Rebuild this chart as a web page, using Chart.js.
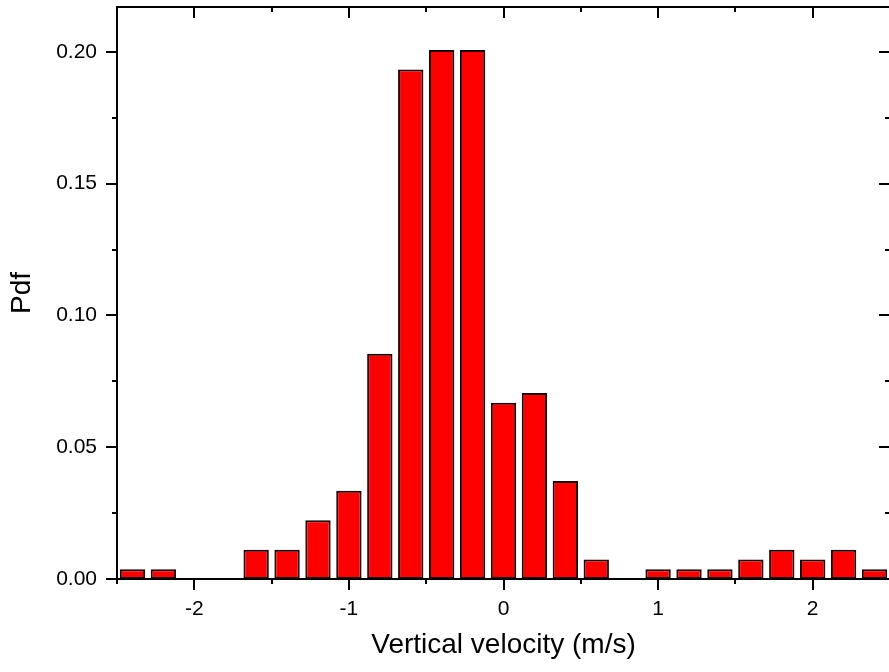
<!DOCTYPE html>
<html>
<head>
<meta charset="utf-8">
<title>Vertical velocity pdf</title>
<script src="https://cdn.jsdelivr.net/npm/chart.js@4.4.1/dist/chart.umd.min.js"></script>
<style>
  html, body { margin: 0; padding: 0; background: #fff; overflow: hidden; }
  #wrap { width: 893px; height: 672px; }
</style>
</head>
<body>
<div id="wrap"><canvas id="pdfChart" width="893" height="672"></canvas></div>
<script>
// Histogram data: bin centres (m/s) and pdf per bin
const binCentres = [-2.4, -2.2, -2.0, -1.8, -1.6, -1.4, -1.2, -1.0, -0.8, -0.6, -0.4, -0.2,
                    0.0, 0.2, 0.4, 0.6, 0.8, 1.0, 1.2, 1.4, 1.6, 1.8, 2.0, 2.2, 2.4];
const pdfValues = [0.0037, 0.0037, 0, 0, 0.0111, 0.0111, 0.0223, 0.0335, 0.0855, 0.1933, 0.2007, 0.2007,
                   0.0669, 0.0706, 0.0372, 0.0074, 0, 0.0037, 0.0037, 0.0037, 0.0074, 0.0111, 0.0074, 0.0111, 0.0037];

// Axis ticks and ranges
const xTickValues = [-2, -1, 0, 1, 2];
const yTickValues = [0, 0.05, 0.10, 0.15, 0.20];
const xRange = [-2.5, 2.5];
const yRange = [0, 0.217];

Chart.defaults.font.family = "'Liberation Sans', Arial, sans-serif";
Chart.defaults.color = '#000';

// midpoints between major ticks (plus one on each end) for the minor ticks
function minorTicks(major, lo, hi) {
    const step = major[1] - major[0];
    const out = [];
    for (let i = -1; i < major.length; i++) {
        const v = major[0] + (i + 0.5) * step;
        if (v >= lo - 1e-9 && v <= hi + 1e-9) out.push(v);
    }
    return out;
}

// Frame box plus Origin-style ticks: outward on bottom/left, inward on top/right
const frameTicks = {
    id: 'frameTicks',
    afterDraw(chart) {
        const {ctx, chartArea: a, scales: {x, y}} = chart;
        const xMinor = minorTicks(xTickValues, xRange[0], xRange[1]);
        const yMinor = minorTicks(yTickValues, yRange[0], yRange[1]);
        ctx.save();
        ctx.strokeStyle = '#000';
        ctx.lineWidth = 2;
        ctx.strokeRect(a.left, a.top, a.right - a.left, a.bottom - a.top);
        ctx.beginPath();
        const xt = (v, len) => {
            const px = Math.round(x.getPixelForValue(v));
            ctx.moveTo(px, a.bottom); ctx.lineTo(px, a.bottom + len);
            ctx.moveTo(px, a.top); ctx.lineTo(px, a.top + len);
        };
        const yt = (v, len) => {
            const py = Math.round(y.getPixelForValue(v));
            ctx.moveTo(a.left, py); ctx.lineTo(a.left - len, py);
            ctx.moveTo(a.right, py); ctx.lineTo(a.right - len, py);
        };
        xTickValues.forEach(v => xt(v, 11));
        xMinor.forEach(v => xt(v, 5));
        yTickValues.forEach(v => yt(v, 11));
        yMinor.forEach(v => yt(v, 5));
        ctx.stroke();
        ctx.restore();
    }
};

const pdfConfig = {
    type: 'bar',
    data: {
        datasets: [{
            label: 'Pdf',
            data: binCentres.map((c, i) => ({x: c, y: pdfValues[i]})),
            backgroundColor: '#ff0000',
            borderColor: '#1a0000',
            borderWidth: 2,
            borderSkipped: false,
            categoryPercentage: 1,
            barPercentage: 0.82
        }]
    },
    options: {
        responsive: false,
        animation: false,
        layout: { padding: { top: 7, right: 3, left: 0, bottom: 0 } },
        plugins: {
            legend: { display: false },
            tooltip: { enabled: false }
        },
        scales: {
            x: {
                type: 'linear',
                min: xRange[0],
                max: xRange[1],
                offset: false,
                grid: { display: false, drawTicks: false },
                border: { display: false },
                afterBuildTicks: s => { s.ticks = xTickValues.map(v => ({value: v})); },
                afterFit: s => { s.height = 93; s.paddingLeft = 0; s.paddingRight = 0; },
                ticks: {
                    padding: 18,
                    autoSkip: false,
                    maxRotation: 0,
                    font: { size: 21 },
                    callback: v => String(v)
                },
                title: {
                    display: true,
                    text: 'Vertical velocity (m/s)',
                    font: { size: 28 },
                    padding: { top: 0, bottom: 10 }
                }
            },
            y: {
                min: yRange[0],
                max: yRange[1],
                grid: { display: false, drawTicks: false },
                border: { display: false },
                afterBuildTicks: s => { s.ticks = yTickValues.map(v => ({value: v})); },
                afterFit: s => { s.width = 117; s.paddingTop = 0; s.paddingBottom = 0; },
                ticks: {
                    padding: 20,
                    font: { size: 21 },
                    callback: v => v.toFixed(2)
                },
                title: {
                    display: true,
                    text: 'Pdf',
                    font: { size: 28 },
                    padding: { top: 5, bottom: 0 }
                }
            }
        }
    },
    plugins: [frameTicks]
};

const pdfChart = new Chart(document.getElementById('pdfChart'), pdfConfig);
</script>
</body>
</html>
